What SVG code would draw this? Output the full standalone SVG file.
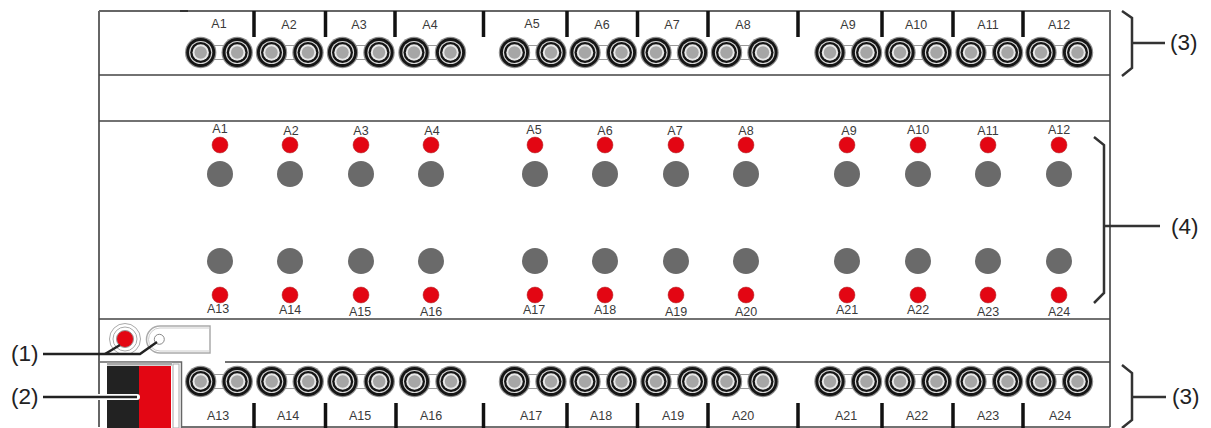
<svg xmlns="http://www.w3.org/2000/svg" width="1211" height="428" viewBox="0 0 1211 428">
<style>
text{font-family:"Liberation Sans",Arial,sans-serif;fill:#3a3a3a;text-anchor:middle}
.s{font-size:12.500px}
.c{font-size:22.500px;fill:#222;text-anchor:start}
.p{fill:none;stroke:#666;stroke-width:2}
.t{stroke:#111;stroke-width:3.500;fill:none}
.b{fill:none;stroke:#333;stroke-width:2.500}
.l{fill:#e30613;stroke:#a33;stroke-width:.5}
.g{fill:#6a6a6a}
</style>
<defs>
<g id="term">
<circle r="15.700" fill="#8f8f8f"/><circle r="14.500" fill="#151515"/><circle r="11.600" fill="#d8d8d8"/><circle r="10.500" fill="#151515"/><circle r="8.200" fill="#e8e8e8"/><circle r="6.200" fill="#a6a6a6"/>
</g>
<g id="pair"><path d="M0-7H36.500M0 7H36.500" stroke="#999" stroke-width="1"/><use href="#term"/><use href="#term" x="36.500"/></g>
</defs>
<g id="housing">
<path class="p" d="M99 11H1110V427M99 11V427"/>
<path d="M180 11H188" stroke="#333" stroke-width="2"/>
<path d="M99 75H1110M99 121H1110M99 319H1110M225 362H1110M182 427H1110" fill="none" stroke="#444" stroke-width="1.500"/>
</g>
<g id="top-terminals">
<path class="t" d="M254 11V37M325.500 11V37M395 11V37M567 11V37M637.500 11V37M708 11V37M798 11V37M882 11V37M953 11V37M1023 11V37"/>
<path d="M483.500 11V37" class="t" stroke-width="5"/>
<use href="#pair" x="200.700" y="52.500"/><use href="#pair" x="271.500" y="52.500"/><use href="#pair" x="342.500" y="52.500"/><use href="#pair" x="414" y="52.500"/>
<use href="#pair" x="514.500" y="52.500"/><use href="#pair" x="585" y="52.500"/><use href="#pair" x="656" y="52.500"/><use href="#pair" x="726.500" y="52.500"/>
<use href="#pair" x="830" y="52.500"/><use href="#pair" x="900" y="52.500"/><use href="#pair" x="971" y="52.500"/><use href="#pair" x="1041" y="52.500"/>
<g class="s">
<text x="219" y="28">A1</text><text x="289" y="29">A2</text><text x="359" y="29">A3</text><text x="430" y="29">A4</text>
<text x="532" y="28">A5</text><text x="602" y="29">A6</text><text x="672" y="29">A7</text><text x="743" y="29">A8</text>
<text x="848" y="29">A9</text><text x="916" y="29">A10</text><text x="988" y="29">A11</text><text x="1059" y="29">A12</text>
</g>
</g>
<g id="bottom-terminals">
<path class="t" d="M254 403V428M325.500 403V428M396 403V428M567 403V428M637.500 403V428M708 403V428M798 403V428M882 403V428M953 403V428M1023 403V428"/>
<path d="M483.500 403V428" class="t" stroke-width="5"/>
<use href="#pair" x="200.700" y="381.500"/><use href="#pair" x="271.700" y="381.500"/><use href="#pair" x="342.700" y="381.500"/><use href="#pair" x="414.500" y="381.500"/>
<use href="#pair" x="514.500" y="381.500"/><use href="#pair" x="585" y="381.500"/><use href="#pair" x="656" y="381.500"/><use href="#pair" x="726.500" y="381.500"/>
<use href="#pair" x="830" y="381.500"/><use href="#pair" x="900" y="381.500"/><use href="#pair" x="971" y="381.500"/><use href="#pair" x="1041" y="381.500"/>
<g class="s">
<text x="218" y="420">A13</text><text x="288" y="420">A14</text><text x="360" y="420">A15</text><text x="431" y="420">A16</text>
<text x="531" y="420">A17</text><text x="601" y="420">A18</text><text x="673" y="420">A19</text><text x="743" y="420">A20</text>
<text x="846" y="420">A21</text><text x="917" y="420">A22</text><text x="988" y="420">A23</text><text x="1060" y="420">A24</text>
</g>
</g>
<g id="leds-top">
<g class="l"><circle cx="220" cy="145" r="8"/><circle cx="290" cy="145" r="8"/><circle cx="361" cy="145" r="8"/><circle cx="431" cy="145" r="8"/><circle cx="535" cy="145" r="8"/><circle cx="605" cy="145" r="8"/><circle cx="676" cy="145" r="8"/><circle cx="746" cy="145" r="8"/><circle cx="847" cy="145" r="8"/><circle cx="918" cy="145" r="8"/><circle cx="988" cy="145" r="8"/><circle cx="1059" cy="145" r="8"/></g>
<g class="g"><circle cx="220" cy="174" r="13"/><circle cx="290" cy="174" r="13"/><circle cx="361" cy="174" r="13"/><circle cx="431" cy="174" r="13"/><circle cx="535" cy="174" r="13"/><circle cx="605" cy="174" r="13"/><circle cx="676" cy="174" r="13"/><circle cx="746" cy="174" r="13"/><circle cx="847" cy="174" r="13"/><circle cx="918" cy="174" r="13"/><circle cx="988" cy="174" r="13"/><circle cx="1059" cy="174" r="13"/></g>
<g class="s">
<text x="220" y="133">A1</text><text x="291" y="135">A2</text><text x="361" y="135">A3</text><text x="432" y="135">A4</text>
<text x="534" y="134">A5</text><text x="605" y="135">A6</text><text x="675" y="135">A7</text><text x="746" y="135">A8</text>
<text x="849" y="135">A9</text><text x="918" y="134">A10</text><text x="988" y="135">A11</text><text x="1059" y="134">A12</text>
</g>
</g>
<g id="leds-bottom">
<g class="g"><circle cx="220" cy="261" r="13"/><circle cx="290" cy="261" r="13"/><circle cx="361" cy="261" r="13"/><circle cx="431" cy="261" r="13"/><circle cx="535" cy="261" r="13"/><circle cx="605" cy="261" r="13"/><circle cx="676" cy="261" r="13"/><circle cx="746" cy="261" r="13"/><circle cx="847" cy="261" r="13"/><circle cx="918" cy="261" r="13"/><circle cx="988" cy="261" r="13"/><circle cx="1059" cy="261" r="13"/></g>
<g class="l"><circle cx="220" cy="295" r="8"/><circle cx="290" cy="295" r="8"/><circle cx="361" cy="295" r="8"/><circle cx="431" cy="295" r="8"/><circle cx="535" cy="295" r="8"/><circle cx="605" cy="295" r="8"/><circle cx="676" cy="295" r="8"/><circle cx="746" cy="295" r="8"/><circle cx="847" cy="295" r="8"/><circle cx="918" cy="295" r="8"/><circle cx="988" cy="295" r="8"/><circle cx="1059" cy="295" r="8"/></g>
<g class="s">
<text x="218" y="313">A13</text><text x="290" y="314">A14</text><text x="360" y="316">A15</text><text x="431" y="316">A16</text>
<text x="534" y="314">A17</text><text x="605" y="314">A18</text><text x="676" y="316">A19</text><text x="746" y="316">A20</text>
<text x="847" y="314">A21</text><text x="918" y="314">A22</text><text x="988" y="316">A23</text><text x="1059" y="316">A24</text>
</g>
</g>
<g id="prog-button">
<circle cx="125" cy="339" r="15.500" fill="#fff" stroke="#aaa"/><circle cx="125" cy="339" r="12" fill="#fff" stroke="#aaa"/><circle cx="125" cy="339" r="8.500" fill="#e30613" stroke="#999"/>
</g>
<g id="prog-led">
<path d="M210 326H160a13.500 13.500 0 0 0 0 27H210Z" fill="#fff" stroke="#aaa" stroke-width="1.500"/>
<path d="M210 328H160a11 11 0 0 0 0 23H210" fill="none" stroke="#ccc"/>
<circle cx="159.300" cy="339.300" r="5" fill="#fff" stroke="#888"/>
</g>
<g id="bus-connector">
<path d="M99 362H181.500V428" fill="none" stroke="#666" stroke-width="1.500"/>
<rect x="173" y="364" width="6" height="64" fill="#fff" stroke="#aaa"/>
<rect x="107" y="366" width="32" height="62" fill="#222"/>
<rect x="139" y="366" width="32" height="62" fill="#e30613"/>
<path d="M107 364H172" stroke="#aaa" stroke-width="3"/>
</g>
<g id="connectors" fill="none" stroke="#222" stroke-width="2.500">
<path d="M43 354H140L157 342"/>
<path d="M105 354L120 345"/>
<path d="M43 397H137" stroke="#fff" stroke-width="6" stroke-linecap="round"/>
<path d="M43 397H137"/>
<path class="b" d="M1122 11L1132 18V68L1122 76M1132 43H1165"/>
<path class="b" d="M1094 137L1104 145V293L1094 303M1104 226H1160"/>
<path class="b" d="M1122 365L1132 373V420L1122 428M1132 397H1166"/>
</g>
<g id="callouts">
<text x="11" y="361" class="c">(1)</text>
<text x="11" y="404" class="c">(2)</text>
<text x="1170" y="50" class="c">(3)</text>
<text x="1171" y="234" class="c">(4)</text>
<text x="1172" y="404" class="c">(3)</text>
</g>
</svg>
